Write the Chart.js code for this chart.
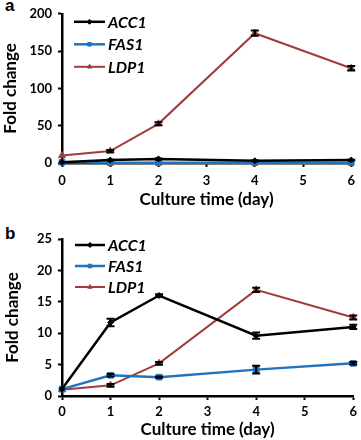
<!DOCTYPE html>
<html>
<head>
<meta charset="utf-8">
<script src="https://cdn.jsdelivr.net/npm/chart.js@4.4.1/dist/chart.umd.min.js"></script>
<style>
  body { margin: 0; background: #fff; }
  .wrap { position: relative; width: 361px; height: 440px; }
  .panel { position: absolute; left: 0; width: 361px; height: 215px; }
  .tag { position: absolute; left: 5px; font: bold 17px "Liberation Sans", Arial, sans-serif; }
</style>
</head>
<body>
<div class="wrap">
  <div class="tag" style="top:-4px">a</div>
  <div class="panel" style="top:0"><canvas id="chartA" width="361" height="215"></canvas></div>
  <div class="tag" style="top:224px">b</div>
  <div class="panel" style="top:225px"><canvas id="chartB" width="361" height="215"></canvas></div>
</div>
<script>
// culture days
const days = [0, 1, 2, 4, 6];

// panel a
const acc1A = [1, 4, 5.5, 3, 4];
const fas1A = [1, 0.5, 0.5, 0.5, 0.5];
const ldp1A = [10, 16, 52.5, 174, 127];
const acc1ErrA = [0, 0.5, 0.5, 0.5, 0.5];
const fas1ErrA = [0, 0, 0, 0, 0];
const ldp1ErrA = [0, 1.5, 2, 3.5, 3];

// panel b
const acc1B = [1.1, 11.7, 16, 9.6, 11];
const fas1B = [1.1, 3.3, 3.0, 4.2, 5.2];
const ldp1B = [1, 1.7, 5.2, 16.9, 12.5];
const acc1ErrB = [0, 0.6, 0.2, 0.5, 0.35];
const fas1ErrB = [0, 0.2, 0.1, 0.6, 0.2];
const ldp1ErrB = [0, 0.2, 0.2, 0.35, 0.3];

const FONT = 'Lato, "Open Sans", sans-serif';
const BLACK = '#000000';
const BLUE = '#1f73c2';
const RED = '#a03c3a';

function series(label, values, errs, color, style, size, width) {
    return {
        label: label,
        data: days.map((d, i) => ({ x: d, y: values[i] })),
        errors: errs,
        borderColor: color,
        backgroundColor: color,
        borderWidth: width,
        pointStyle: style,
        pointRadius: size,
        pointBorderWidth: 1,
        tension: 0,
        fill: false,
        clip: false
    };
}

// vertical error bars with black caps
const errorBars = {
    id: 'errorBars',
    afterDatasetsDraw(chart) {
        const ctx = chart.ctx;
        const y = chart.scales.y;
        ctx.save();
        ctx.strokeStyle = BLACK;
        ctx.lineWidth = 2;
        chart.data.datasets.forEach((ds, di) => {
            const meta = chart.getDatasetMeta(di);
            meta.data.forEach((pt, i) => {
                const e = ds.errors[i];
                if (!e) return;
                const v = ds.data[i].y;
                const top = y.getPixelForValue(v + e);
                const bot = y.getPixelForValue(v - e);
                ctx.beginPath();
                ctx.moveTo(pt.x, top); ctx.lineTo(pt.x, bot);
                ctx.moveTo(pt.x - 4, top); ctx.lineTo(pt.x + 4, top);
                ctx.moveTo(pt.x - 4, bot); ctx.lineTo(pt.x + 4, bot);
                ctx.stroke();
            });
        });
        ctx.restore();
    }
};

// legend drawn inside the plot, line + marker + italic label
const innerLegend = {
    id: 'innerLegend',
    afterDraw(chart, args, opts) {
        const ctx = chart.ctx;
        const area = chart.chartArea;
        ctx.save();
        chart.data.datasets.forEach((ds, i) => {
            const x0 = area.left + opts.dx;
            const yy = area.top + opts.dy + i * opts.gap;
            ctx.strokeStyle = ds.borderColor;
            ctx.fillStyle = ds.borderColor;
            ctx.lineWidth = ds.borderWidth;
            ctx.beginPath();
            ctx.moveTo(x0, yy);
            ctx.lineTo(x0 + opts.len, yy);
            ctx.stroke();
            ctx.lineWidth = 1;
            Chart.helpers.drawPoint(ctx, {
                pointStyle: ds.pointStyle, radius: 2.5, borderWidth: 1
            }, x0 + opts.len / 2, yy);
            ctx.fillStyle = BLACK;
            ctx.font = 'italic bold ' + opts.size + 'px ' + FONT;
            ctx.textBaseline = 'middle';
            ctx.fillText(ds.label, x0 + opts.len + 3, yy + 1);
        });
        ctx.restore();
    }
};

function makeChart(id, datasets, yMax, yStep, pad, xHeight, xPad, legend) {
    const ctx = document.getElementById(id).getContext('2d');
    return new Chart(ctx, {
        type: 'line',
        data: { datasets: datasets },
        options: {
            responsive: false,
            animation: false,
            layout: { padding: pad },
            plugins: {
                legend: { display: false },
                tooltip: { enabled: false },
                innerLegend: legend
            },
            scales: {
                x: {
                    type: 'linear',
                    min: 0,
                    max: 6,
                    border: { color: BLACK, width: 2.5 },
                    grid: { drawOnChartArea: false, tickLength: 4, tickColor: BLACK, tickWidth: 2 },
                    ticks: { stepSize: 1, color: BLACK, padding: xPad, font: { family: FONT, size: 13, weight: 'bold' } },
                    title: { display: true, text: 'Culture time (day)', color: BLACK, padding: { top: 0, bottom: 0 },
                             font: { family: FONT, size: 17, weight: 'bold' } },
                    afterFit(s) { s.height = xHeight; }
                },
                y: {
                    min: 0,
                    max: yMax,
                    border: { color: BLACK, width: 2.5 },
                    grid: { drawOnChartArea: false, tickLength: 4, tickColor: BLACK, tickWidth: 2 },
                    ticks: { stepSize: yStep, color: BLACK, padding: 6, font: { family: FONT, size: 13, weight: 'bold' } },
                    title: { display: true, text: 'Fold change', color: BLACK, padding: { top: 0, bottom: 0 },
                             font: { family: FONT, size: 17, weight: 'bold' } },
                    afterFit(s) { s.width = 62 - pad.left; }
                }
            }
        },
        plugins: [errorBars, innerLegend]
    });
}

makeChart('chartA', [
    series('ACC1', acc1A, acc1ErrA, BLACK, 'rectRot', 3, 2.5),
    series('FAS1', fas1A, fas1ErrA, BLUE, 'rect', 4, 2.5),
    series('LDP1', ldp1A, ldp1ErrA, RED, 'triangle', 4, 2)
], 200, 50, { top: 7, right: 8, bottom: 5, left: 0 }, 47, 6, { dx: 12, dy: 8, gap: 22.5, len: 31, size: 16 });

makeChart('chartB', [
    series('ACC1', acc1B, acc1ErrB, BLACK, 'rectRot', 3, 2.5),
    series('FAS1', fas1B, fas1ErrB, BLUE, 'rect', 4, 2.5),
    series('LDP1', ldp1B, ldp1ErrB, RED, 'triangle', 4, 2)
], 25, 5, { top: 14, right: 7, bottom: 0, left: 2 }, 44, 4, { dx: 13, dy: 6, gap: 21, len: 30, size: 16 });
</script>
</body>
</html>
